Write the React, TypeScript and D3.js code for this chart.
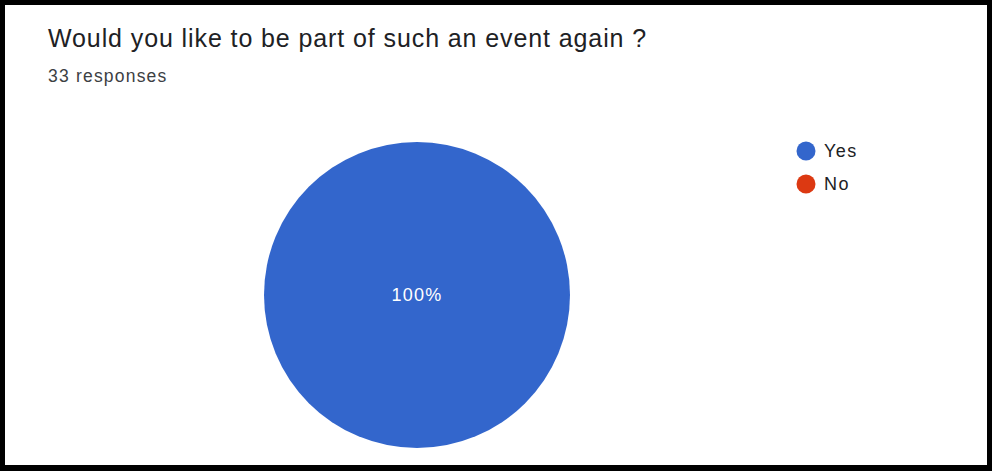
import React, { useEffect, useRef } from 'react';
import * as d3 from 'd3';

const categories = ['Yes', 'No'];
const responses = [33, 0];
const colors = ['#3366cc', '#dc3912'];
const title = 'Would you like to be part of such an event again ?';
const subtitle = '33 responses';

const W = 992;
const H = 471;

const App: React.FC = () => {
  const svgRef = useRef<SVGSVGElement>(null);

  useEffect(() => {
    const svg = d3.select(svgRef.current);
    svg.selectAll('*').remove();

    // frame
    svg.append('rect').attr('width', W).attr('height', H).attr('fill', '#000');
    svg.append('rect').attr('x', 5).attr('y', 5).attr('width', W - 10).attr('height', H - 11).attr('fill', '#fff');

    const font = '"Liberation Sans", Arial, sans-serif';

    svg.append('text')
      .attr('x', 48).attr('y', 47)
      .style('font-family', font).style('font-size', '25px').style('letter-spacing', '0.9px')
      .attr('fill', '#202124')
      .text(title);
    svg.append('text')
      .attr('x', 48).attr('y', 82)
      .style('font-family', font).style('font-size', '17.5px').style('letter-spacing', '1.2px')
      .attr('fill', '#3c4043')
      .text(subtitle);

    const data = categories.map((c, i) => ({ label: c, value: responses[i], color: colors[i] }));
    const total = d3.sum(data, d => d.value);

    const pie = d3.pie<any>().value(d => d.value).sort(null);
    const arc = d3.arc<any>().innerRadius(0).outerRadius(153);

    const g = svg.append('g').attr('transform', 'translate(417,295)');
    const arcs = pie(data);
    g.selectAll('path')
      .data(arcs)
      .enter()
      .append('path')
      .attr('d', arc)
      .attr('fill', d => d.data.color);

    const labelArc = d3.arc<any>().innerRadius(0).outerRadius(0);
    g.selectAll('text')
      .data(arcs.filter(d => d.data.value > 0))
      .enter()
      .append('text')
      .attr('transform', d => {
        const full = d.endAngle - d.startAngle >= Math.PI * 2 - 1e-6;
        const [x, y] = full ? [0, 0] : labelArc.centroid(d);
        return `translate(${x},${y})`;
      })
      .attr('dy', '0.35em')
      .attr('text-anchor', 'middle')
      .style('font-family', font).style('font-size', '18px').style('letter-spacing', '1.3px')
      .attr('fill', '#fff')
      .text(d => `${Math.round((d.data.value / total) * 100)}%`);

    // legend
    const legend = svg.append('g').attr('transform', 'translate(806,151)');
    data.forEach((d, i) => {
      const item = legend.append('g').attr('transform', `translate(0,${i * 33})`);
      item.append('circle').attr('r', 9.5).attr('fill', d.color);
      item.append('text')
        .attr('x', 18).attr('dy', '0.35em')
        .style('font-family', font).style('font-size', '18px').style('letter-spacing', '1.5px')
        .attr('fill', '#202124')
        .text(d.label);
    });
  }, []);

  return (
    <svg ref={svgRef} width={W} height={H} style={{ position: 'absolute', left: 0, top: 0 }} />
  );
};

export default App;
